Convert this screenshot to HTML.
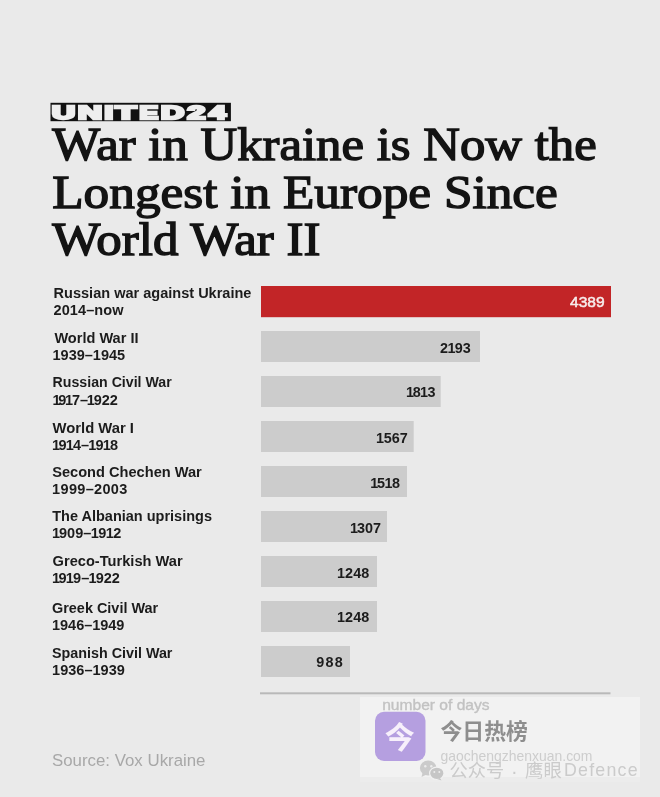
<!DOCTYPE html>
<html>
<head>
<meta charset="utf-8">
<style>
html,body{margin:0;padding:0;background:#eaeaea;}
body{width:660px;height:797px;overflow:hidden;position:relative;}
svg{position:absolute;left:0;top:0;display:block;}
.ti{font-family:"Liberation Serif",serif;font-size:46.8px;fill:#131313;stroke:#131313;stroke-width:1.4px;}
.lb{font-family:"Liberation Sans",sans-serif;font-weight:bold;font-size:14.5px;fill:#1c1c1c;}
.nv{font-family:"Liberation Sans",sans-serif;font-weight:bold;font-size:14.4px;fill:#1c1c1c;}
.lg{font-family:"Liberation Sans",sans-serif;font-weight:bold;font-size:17.8px;fill:#eeeeee;stroke:#eeeeee;stroke-width:2.4px;}
</style>
</head>
<body>
<svg width="660" height="797" viewBox="0 0 660 797">
  <rect x="0" y="0" width="660" height="797" fill="#eaeaea"/>
  <!-- logo -->
  <rect x="50.5" y="102.8" width="180.4" height="18.4" fill="#111"/>
  <g class="lg">
    <text x="52.0" y="118.9" textLength="23.03" lengthAdjust="spacingAndGlyphs">U</text>
    <text x="78.0" y="118.9" textLength="24.03" lengthAdjust="spacingAndGlyphs">N</text>
    <text x="104.5" y="118.9" textLength="8.58" lengthAdjust="spacingAndGlyphs">I</text>
    <text x="115.5" y="118.9" textLength="20.71" lengthAdjust="spacingAndGlyphs">T</text>
    <text x="139.5" y="118.9" textLength="18.61" lengthAdjust="spacingAndGlyphs">E</text>
    <text x="161.0" y="118.9" textLength="23.1" lengthAdjust="spacingAndGlyphs">D</text>
    <text x="187.5" y="118.9" textLength="17.77" lengthAdjust="spacingAndGlyphs">2</text>
    <text x="209.0" y="118.9" textLength="16.82" lengthAdjust="spacingAndGlyphs">4</text>
  </g>
  <!-- title -->
  <text class="ti" x="52.3" y="160.1" textLength="544.4" lengthAdjust="spacingAndGlyphs">War in Ukraine is Now the</text>
  <text class="ti" x="52.3" y="208.1" textLength="505.6" lengthAdjust="spacingAndGlyphs">Longest in Europe Since</text>
  <text class="ti" x="52.3" y="255.2" textLength="268.2" lengthAdjust="spacingAndGlyphs">World War II</text>

  <!-- bars -->
  <rect x="261" y="286" width="350" height="31.2" fill="#c22527"/>
  <rect x="261" y="331" width="219" height="31" fill="#cccccc"/>
  <rect x="261" y="376" width="179.7" height="31" fill="#cccccc"/>
  <rect x="261" y="421" width="152.7" height="31" fill="#cccccc"/>
  <rect x="261" y="466" width="146" height="31" fill="#cccccc"/>
  <rect x="261" y="511" width="126" height="31" fill="#cccccc"/>
  <rect x="261" y="556" width="116" height="31" fill="#cccccc"/>
  <rect x="261" y="601" width="116" height="31" fill="#cccccc"/>
  <rect x="261" y="646" width="89" height="31" fill="#cccccc"/>

  <!-- values -->
  <g class="nv">
    <text x="570" y="307.3" textLength="34.6" lengthAdjust="spacingAndGlyphs" style="fill:#f7ecec;font-weight:normal;stroke:#f7ecec;stroke-width:0.5px">4389</text>
    <text x="440.0" y="352.8" dx="0.0 -0.63 -0.63 0.0">2193</text>
    <text x="406.12" y="397.3" dx="0.0 -1.35 -0.68 -0.68">1813</text>
    <text x="376.12" y="442.6" dx="0.0 -0.36 0.0 0.0">1567</text>
    <text x="370.14" y="487.8" dx="0.0 -1.08 -0.54 -0.54">1518</text>
    <text x="350.1" y="532.8" dx="0.0 -1.08 0.0 0.0">1307</text>
    <text x="337.1" y="577.8" dx="0.0 0.0 0.0 0.0">1248</text>
    <text x="337.1" y="622.2" dx="0.0 0.0 0.0 0.0">1248</text>
    <text x="316.31" y="667.4" dx="0.0 1.17 1.17">988</text>
  </g>

  <!-- labels -->
  <g class="lb">
    <text x="53.6" y="297.5" textLength="197.84" lengthAdjust="spacingAndGlyphs">Russian war against Ukraine</text>
    <text x="53.54" y="314.8" dx="0.0 0.08 0.08 0.08 0.08 0.08 0.08 0.08">2014–now</text>
    <text x="54.4" y="342.8" textLength="84.09" lengthAdjust="spacingAndGlyphs">World War II</text>
    <text x="52.6" y="359.9" dx="0.0 -0.09 0.0 0.0 0.0 -0.04 -0.04 0.0 0.0">1939–1945</text>
    <text x="52.61" y="387.3" textLength="119.13" lengthAdjust="spacingAndGlyphs">Russian Civil War</text>
    <text x="52.58" y="404.6" dx="0.0 -2.46 -1.23 -1.23 0.0 -1.23 -1.23 0.0 0.0">1917–1922</text>
    <text x="52.6" y="432.9" textLength="81.36" lengthAdjust="spacingAndGlyphs">World War I</text>
    <text x="52.12" y="449.9" dx="0.0 -1.67 -0.83 -0.83 0.0 -0.83 -0.83 -0.83 -0.83">1914–1918</text>
    <text x="52.2" y="476.6" textLength="149.63" lengthAdjust="spacingAndGlyphs">Second Chechen War</text>
    <text x="52.08" y="493.9" dx="0.0 0.32 0.32 0.32 0.32 0.32 0.32 0.32 0.32">1999–2003</text>
    <text x="52.2" y="520.9" textLength="159.8" lengthAdjust="spacingAndGlyphs">The Albanian uprisings</text>
    <text x="52.1" y="537.8" dx="0.0 -1.2 0.0 0.0 0.0 -0.6 -0.6 -0.6 -0.6">1909–1912</text>
    <text x="52.59" y="566.1" textLength="130.03" lengthAdjust="spacingAndGlyphs">Greco-Turkish War</text>
    <text x="52.1" y="583.3" dx="0.0 -1.62 -0.81 -0.81 0.0 -0.81 -0.81 0.0 0.0">1919–1922</text>
    <text x="52.0" y="612.9" textLength="106.16" lengthAdjust="spacingAndGlyphs">Greek Civil War</text>
    <text x="52.1" y="630.4" dx="0.0 -0.18 0.0 0.0 0.0 -0.09 -0.09 0.0 0.0">1946–1949</text>
    <text x="52.01" y="657.9" textLength="120.44" lengthAdjust="spacingAndGlyphs">Spanish Civil War</text>
    <text x="52.1" y="675.2" dx="0.0 0.0 0.0 0.0 0.0 0.0 0.0 0.0 0.0">1936–1939</text>
  </g>

  <!-- axis -->
  <rect x="260" y="692.3" width="350.5" height="2" fill="#b9b9b9"/>

  <!-- source -->
  <text x="52" y="766.2" textLength="153.5" lengthAdjust="spacingAndGlyphs" style="font-family:'Liberation Sans',sans-serif;font-size:16.8px;fill:#a8a8a8">Source: Vox Ukraine</text>

  <!-- watermark overlay -->
  <rect x="360" y="697" width="280" height="80" fill="#f2f2f2"/>
  <rect x="360" y="777" width="280" height="5" fill="#ececec"/>
  <text x="382.2" y="709.9" textLength="107.4" lengthAdjust="spacingAndGlyphs" style="font-family:'Liberation Sans',sans-serif;font-size:15px;fill:#c2c2c2;stroke:#c2c2c2;stroke-width:0.35px">number of days</text>
  <rect x="375" y="711.8" width="50.5" height="49.2" rx="9" ry="9" fill="#b59fe0"/>
  <text x="399.8" y="747.5" text-anchor="middle" style="font-family:'Liberation Sans','Noto Sans CJK SC',sans-serif;font-weight:bold;font-size:30px;fill:#f7f0fb">今</text>
  <text x="440.5" y="738.5" textLength="87.5" lengthAdjust="spacingAndGlyphs" style="font-family:'Liberation Sans','Noto Sans CJK SC',sans-serif;font-weight:bold;font-size:21.5px;fill:#8e8e8e">今日热榜</text>
  <text x="440.5" y="760.9" textLength="152" lengthAdjust="spacingAndGlyphs" style="font-family:'Liberation Sans',sans-serif;font-size:14.5px;fill:#cdcdcd">gaochengzhenxuan.com</text>
  <!-- wechat icon -->
  <g fill="#cbcbcb">
    <ellipse cx="428.2" cy="768" rx="8.3" ry="7.4"/>
    <path d="M422.5 773 L421.5 777 L426.5 774.5 Z"/>
    <ellipse cx="436.8" cy="773.3" rx="7.2" ry="6.2" stroke="#f2f2f2" stroke-width="1.2" fill="#c6c6c6"/>
    <path d="M440 778 L441.5 780.5 L437 779 Z" fill="#c6c6c6"/>
  </g>
  <g fill="#ececec">
    <circle cx="425.3" cy="766.3" r="1.2"/>
    <circle cx="431.3" cy="766.3" r="1.2"/>
    <circle cx="434.3" cy="772" r="1"/>
    <circle cx="439.3" cy="772" r="1"/>
  </g>
  <g style="font-family:'Liberation Sans','Noto Sans CJK SC',sans-serif;font-size:17.8px;fill:#cbcbcb">
    <text x="449.5" y="777.3" style="font-size:18.2px">公众号</text>
    <text x="514.3" y="777.5" text-anchor="middle" style="font-size:20px">·</text>
    <text x="525" y="777.3" style="font-size:18.4px">鹰眼</text>
    <text x="564" y="776.4" textLength="73.6" lengthAdjust="spacing">Defence</text>
  </g>
</svg>
</body>
</html>
